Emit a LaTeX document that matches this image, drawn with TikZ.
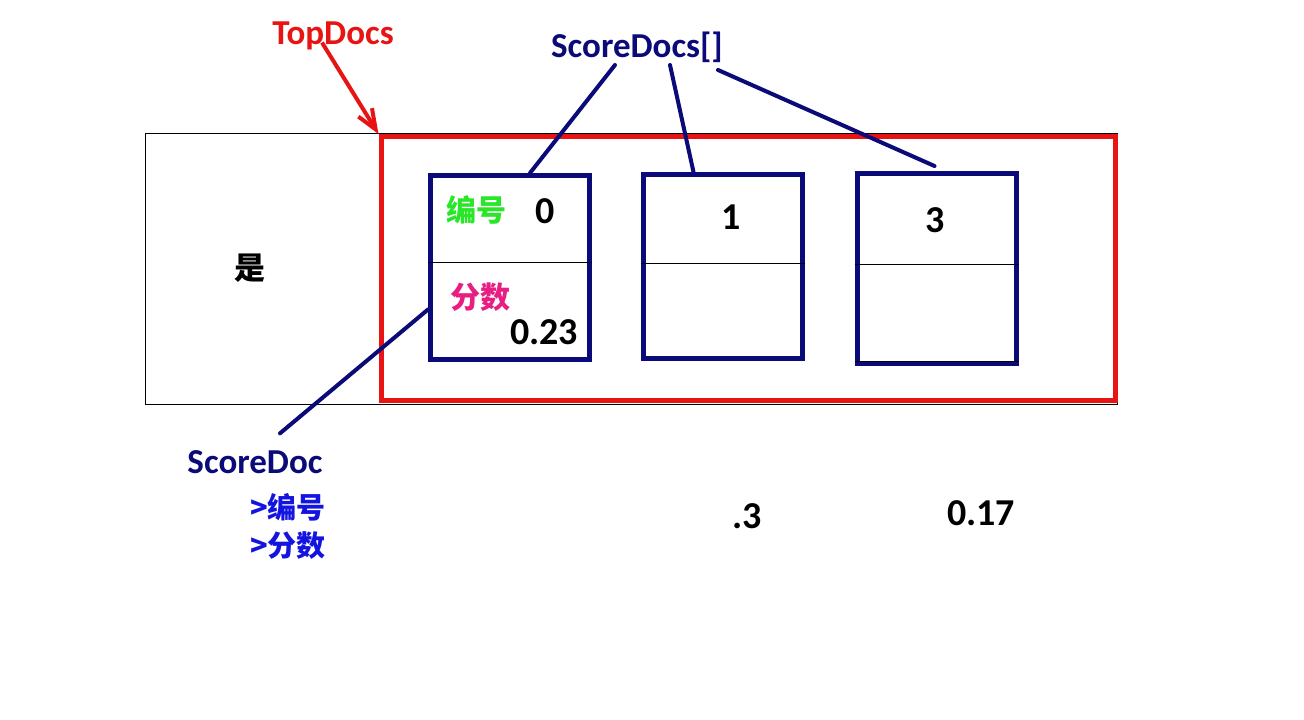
\documentclass[tikz,border=0pt]{standalone}
\usepackage{fontspec}
\setmainfont{Carlito}
\newfontfamily\cjk{Noto Sans CJK SC}
\usetikzlibrary{arrows.meta,calc}
\definecolor{docnavy}{RGB}{10,10,120}
\definecolor{topred}{RGB}{232,20,20}
\definecolor{idgreen}{RGB}{40,230,40}
\definecolor{scorepink}{RGB}{232,30,130}
\definecolor{fieldblue}{RGB}{20,20,225}
\tikzset{
  docbox/.style={draw=docnavy, line width=5pt, minimum width=159pt, minimum height=184pt, inner sep=0pt},
  divline/.style={black, line width=0.9pt},
  link/.style={docnavy, line width=4pt, line cap=round},
  lbl/.style={font=\bfseries\fontsize{35}{35}\selectfont, inner sep=0pt, text depth=0pt},
  num/.style={font=\bfseries\fontsize{38}{38}\selectfont, inner sep=0pt, text depth=0pt},
  zh/.style={font=\cjk\bfseries\fontsize{30}{30}\selectfont, inner sep=0pt}
}
\begin{document}
\begin{tikzpicture}[x=1pt,y=-1pt]
    \useasboundingbox[fill=white] (0,0) rectangle (1304,720);
    % result list and the top docs part of it
    \node[draw=black, line width=0.9pt, minimum width=972pt, minimum height=271pt, inner sep=0pt] (results) at (631,268.5) {};
    \node[draw=topred, line width=5pt, minimum width=734pt, minimum height=264pt, inner sep=0pt] (topbox) at (748,268.5) {};
    \node[zh, black, font=\cjk\bfseries\fontsize{31}{31}\selectfont] (yes) at (250,268) {是};
    % score docs
    \node[docbox] (docA) at (510,267.5) {};
    \node[docbox] (docB) at (722.5,266.5) {};
    \node[docbox, minimum height=190pt] (docC) at (936.5,268.5) {};
    \foreach \b/\y in {docA/262,docB/263,docC/264}
        \draw[divline] (\b.west |- 0,\y) -- (\b.east |- 0,\y);
    \draw[divline] (docC.west |- 0,361) -- (docC.east |- 0,361);
    \node[zh, idgreen] (idA) at (476,210) {编号};
    \node[num] (idvalA) at (545,211) {0};
    \node[zh, scorepink] (scA) at (480,297) {分数};
    \node[num] (scvalA) at (544,332) {0.23};
    \node[num] (idvalB) at (731,217) {1};
    \node[num] (idvalC) at (935,220) {3};
    \node[num] (scvalB) at (747,516) {.3};
    \node[num] (scvalC) at (981,513) {0.17};
    % labels
    \node[lbl, topred] (topdocs) at (333,33) {TopDocs};
    \node[lbl, docnavy] (scoredocs) at (637,45) {ScoreDocs[]};
    \node[lbl, docnavy] (scoredoc) at (255,462) {ScoreDoc};
    \node[zh, fieldblue, font=\cjk\bfseries\fontsize{29}{29}\selectfont] (fieldA) at (288,507) {>编号};
    \node[zh, fieldblue, font=\cjk\bfseries\fontsize{29}{29}\selectfont] (fieldB) at (288,546) {>分数};
    % connectors
    \draw[topred, line width=4pt, -{Straight Barb[length=20pt,width=16pt]}] ($(topdocs.south)+(-11,-2)$) -- (topbox.north west);
    \draw[link] ($(scoredocs.south)+(-22,7)$) -- ($(docA.north)+(20,0)$);
    \draw[link] ($(scoredocs.south)+(33,7)$) -- ($(docB.north)+(-29,0)$);
    \draw[link] ($(scoredocs.south)+(81,12)$) -- ($(docC.north)+(-2,-5)$);
    \draw[link] ($(scoredoc.north)+(25,-17)$) -- ($(docA.west)+(0,42)$);
\end{tikzpicture}
\end{document}
